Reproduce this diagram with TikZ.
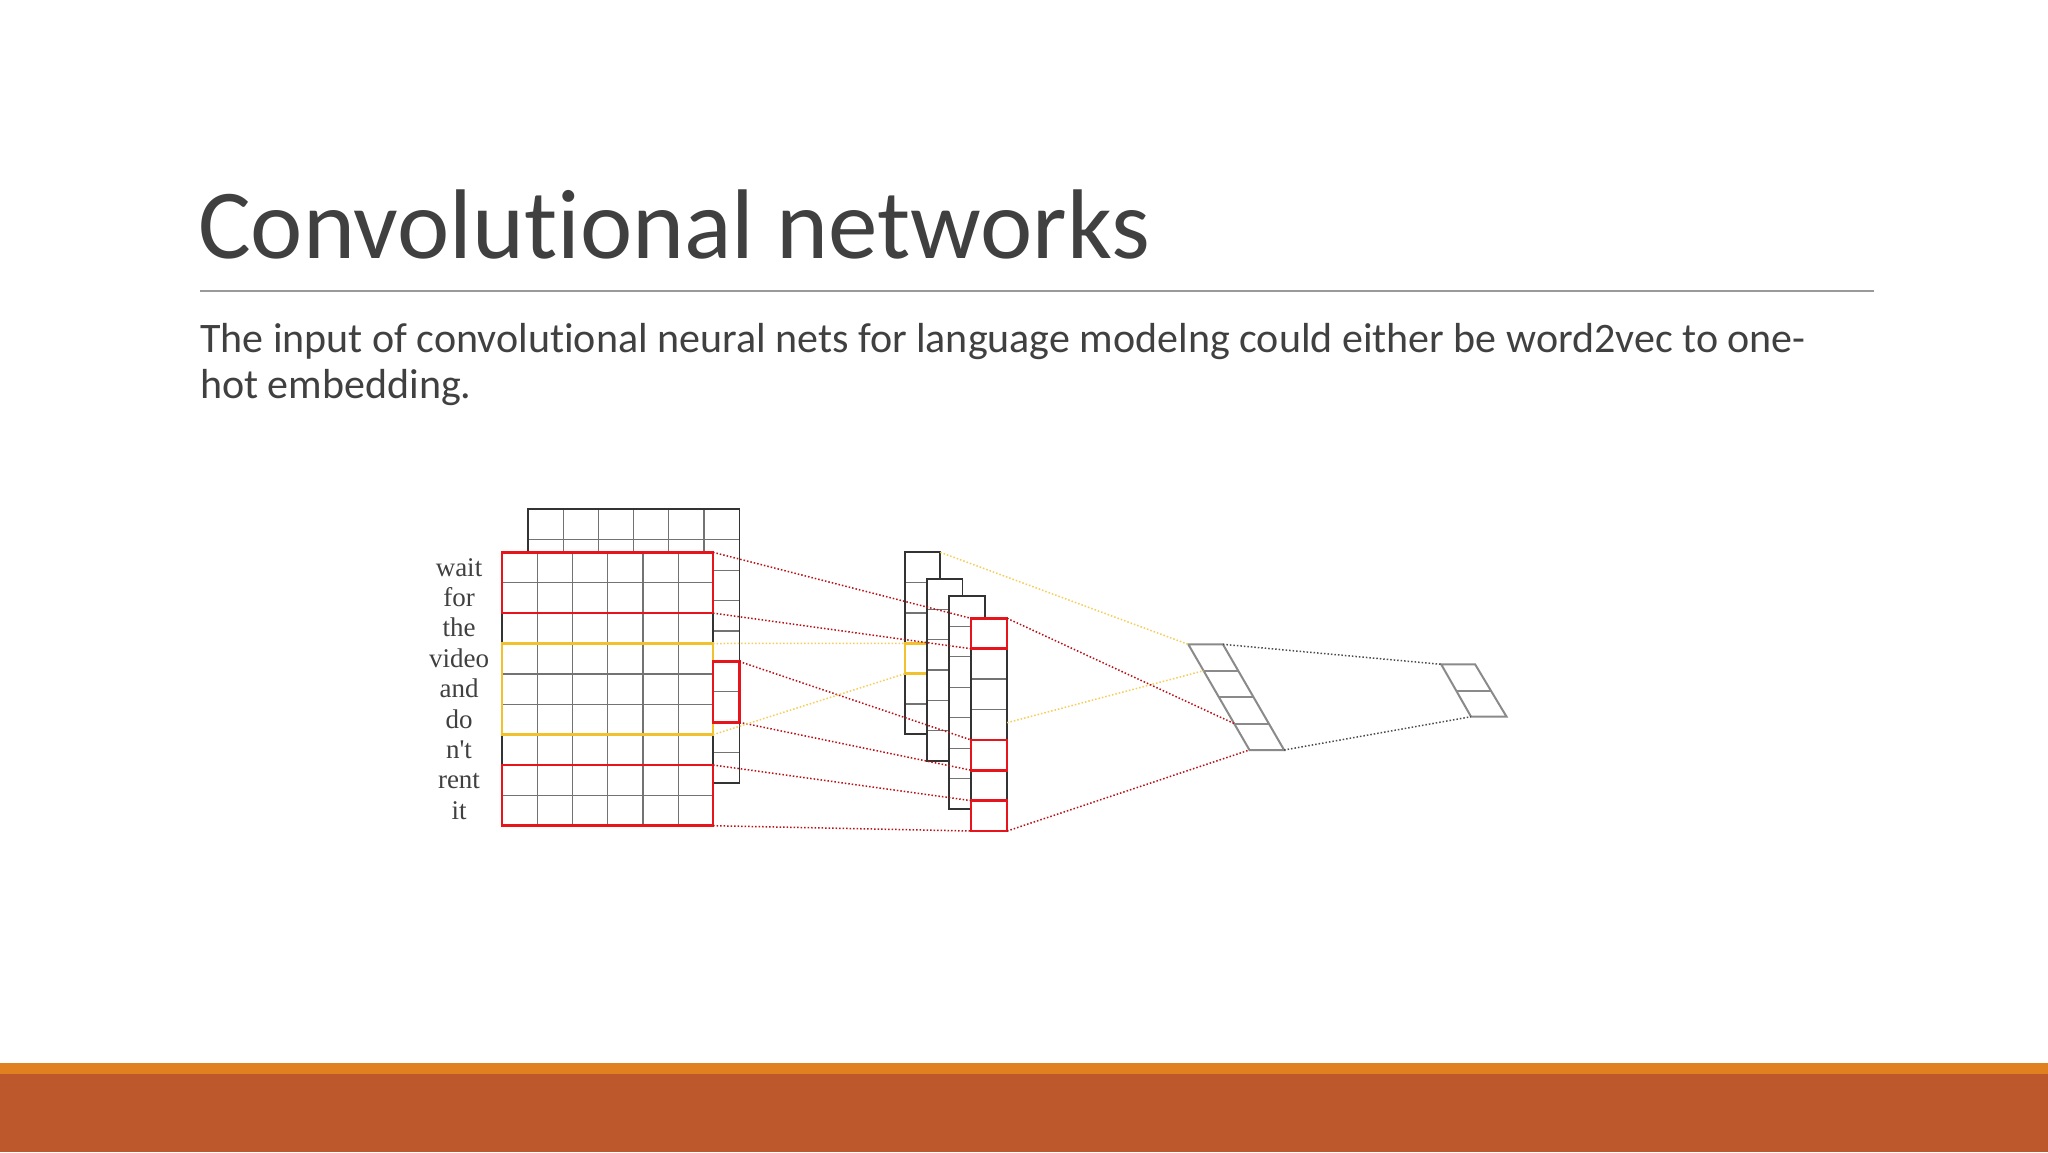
\documentclass[tikz,border=0pt]{standalone}
\usepackage{fontspec}
\usetikzlibrary{calc}
\setmainfont{Carlito}[Ligatures=NoCommon]
\newfontfamily\lblfont{Liberation Serif}
\begin{document}
\begin{tikzpicture}[x=1pt,y=-1pt]
\definecolor{txt}{HTML}{404040}
\definecolor{cred}{HTML}{E8141C}
\definecolor{cyel}{HTML}{F2C12E}
\definecolor{cgray}{HTML}{8A8A8A}
\definecolor{band}{HTML}{E0801F}
\definecolor{bar}{HTML}{BC582C}
\tikzset{grid/.style={draw=black!80,line width=1.8pt},
 thin/.style={draw=black!55,line width=1.2pt},
 redb/.style={draw=cred,line width=2.6pt},
 yelb/.style={draw=cyel,line width=2.6pt},
 rdot/.style={draw=cred!80!black,line width=1.5pt,dotted},
 ydot/.style={draw=cyel!80,line width=1.5pt,dotted},
 kdot/.style={draw=black!70,line width=1.5pt,dotted},
 para/.style={draw=cgray,line width=2pt},
 lbl/.style={font=\lblfont\fontsize{27}{27}\selectfont,text=black!75,anchor=base}}
\useasboundingbox (0,0) rectangle (2048,1152);
\fill[white] (0,0) rectangle (2048,1152);
% title
\node[anchor=base west,inner sep=0,text=txt,font=\fontsize{99}{99}\selectfont] (title) at (198,258) {Convolutional networks};
\draw[black!40,line width=1.3pt] (200,291) -- (1874,291);
\node[anchor=base west,inner sep=0,text=txt,font=\fontsize{42}{46}\selectfont] (body) at (200,352) {The input of convolutional neural nets for language modelng could either be word2vec to one-};
\node[anchor=base west,inner sep=0,text=txt,font=\fontsize{42}{46}\selectfont] (body2) at (200,398) {hot embedding.};
% bars
\fill[band] (0,1063) rectangle (2048,1075);
\fill[bar] (0,1074) rectangle (2048,1152);
% labels
\foreach \t [count=\i from 0] in {wait,for,the,video,and,do,n't,rent,it}
  \node[lbl] (w\i) at (459,576+\i*30.4) {\t};
\begin{scope}[cm={1.146,0,0,1,(-61.3,0)}]
\def\h{30.4}\def\w{30.7}
% back matrix
\foreach \i in {1,...,8} \draw[thin] (514.3,509.3+\i*\h) -- (698.7,509.3+\i*\h);
\foreach \j in {1,...,5} \draw[thin] (514.3+\j*\w,509.3) -- (514.3+\j*\w,552.3);
\draw[grid] (514.3,509.3) rectangle (698.7,783.3);
% front matrix
\fill[white] (491.7,552.3) rectangle (675.7,825.7);
\foreach \i in {1,...,8} \draw[thin] (491.7,552.3+\i*\h) -- (675.7,552.3+\i*\h);
\foreach \j in {1,...,5} \draw[thin] (491.7+\j*\w,552.3) -- (491.7+\j*\w,825.7);
\draw[grid] (491.7,552.3) rectangle (675.7,825.7);
\draw[redb] (491.7,552.3) rectangle (675.7,613.1);
\draw[yelb] (491.7,643.5) rectangle (675.7,734.7);
\draw[redb] (491.7,765) rectangle (675.7,825.7);
\draw[redb] (675.7,661.5) rectangle (698.7,722.3);
% stacks
\fill[white] (843.3,552.3) rectangle (874,734.3);
\foreach \i in {1,...,5} \draw[thin] (843.3,552.3+\i*30.33) -- (874,552.3+\i*30.33);
\draw[grid] (843.3,552.3) rectangle (874,734.3);
\draw[yelb] (843.3,643.3) rectangle (874,673.6);
\fill[white] (862.7,579) rectangle (893.3,761);
\foreach \i in {1,...,5} \draw[thin] (862.7,579+\i*30.33) -- (893.3,579+\i*30.33);
\draw[grid] (862.7,579) rectangle (893.3,761);
\fill[white] (881.7,596) rectangle (912.7,809);
\foreach \i in {1,...,6} \draw[thin] (881.7,596+\i*30.43) -- (912.7,596+\i*30.43);
\draw[grid] (881.7,596) rectangle (912.7,809);
\fill[white] (900.7,618.3) rectangle (932.3,831);
\foreach \i in {1,...,6} \draw[thin] (900.7,618.3+\i*30.39) -- (932.3,618.3+\i*30.39);
\draw[grid] (900.7,618.3) rectangle (932.3,831);
\draw[redb] (900.7,618.3) rectangle (932.3,648.7);
\draw[redb] (900.7,739.9) rectangle (932.3,770.2);
\draw[redb] (900.7,800.6) rectangle (932.3,831);
% connectors
\draw[rdot] (675.7,552.3) -- (900.7,618.3);
\draw[rdot] (675.7,613.1) -- (900.7,648.7);
\draw[rdot] (698.7,661.5) -- (900.7,739.9);
\draw[rdot] (698.7,722.3) -- (900.7,770.2);
\draw[rdot] (675.7,765) -- (900.7,800.6);
\draw[rdot] (675.7,825.7) -- (900.7,831);
\draw[ydot] (675.7,643.5) -- (843.3,643.3);
\draw[ydot] (675.7,734.7) -- (843.3,673.6);
\coordinate (s1) at (874,552.3);
\coordinate (s4t) at (932.3,618.3);
\coordinate (s4m) at (932.3,722.7);
\coordinate (s4b) at (932.3,831);
\end{scope}
\begin{scope}[cm={1.224,0,0,1,(-197.1,0)}]
\coordinate (p1a) at (1131.7,644.3); \coordinate (p1b) at (1160,644.3);
\coordinate (p1c) at (1210,750); \coordinate (p1d) at (1181.7,750);
\draw[para] (p1a) -- (p1b) -- (p1c) -- (p1d) -- cycle;
\foreach \k in {1,2,3} \draw[para] ($(p1a)!\k/4!(p1d)$) -- ($(p1b)!\k/4!(p1c)$);
\coordinate (p2a) at (1338.3,664.3); \coordinate (p2b) at (1366,664.3);
\coordinate (p2c) at (1391.7,716.7); \coordinate (p2d) at (1362.7,716.7);
\draw[para] (p2a) -- (p2b) -- (p2c) -- (p2d) -- cycle;
\draw[para] ($(p2a)!0.5!(p2d)$) -- ($(p2b)!0.5!(p2c)$);
\coordinate (q1) at ($(p1a)!0.25!(p1d)$);
\coordinate (q3) at ($(p1a)!0.75!(p1d)$);
\draw[kdot] (p1b) -- (p2a);
\draw[kdot] (p1c) -- (p2d);
\end{scope}
\draw[ydot] (s1) -- (p1a);
\draw[ydot] (s4m) -- (q1);
\draw[rdot] (s4t) -- (q3);
\draw[rdot] (s4b) -- (p1d);
\end{tikzpicture}
\end{document}
